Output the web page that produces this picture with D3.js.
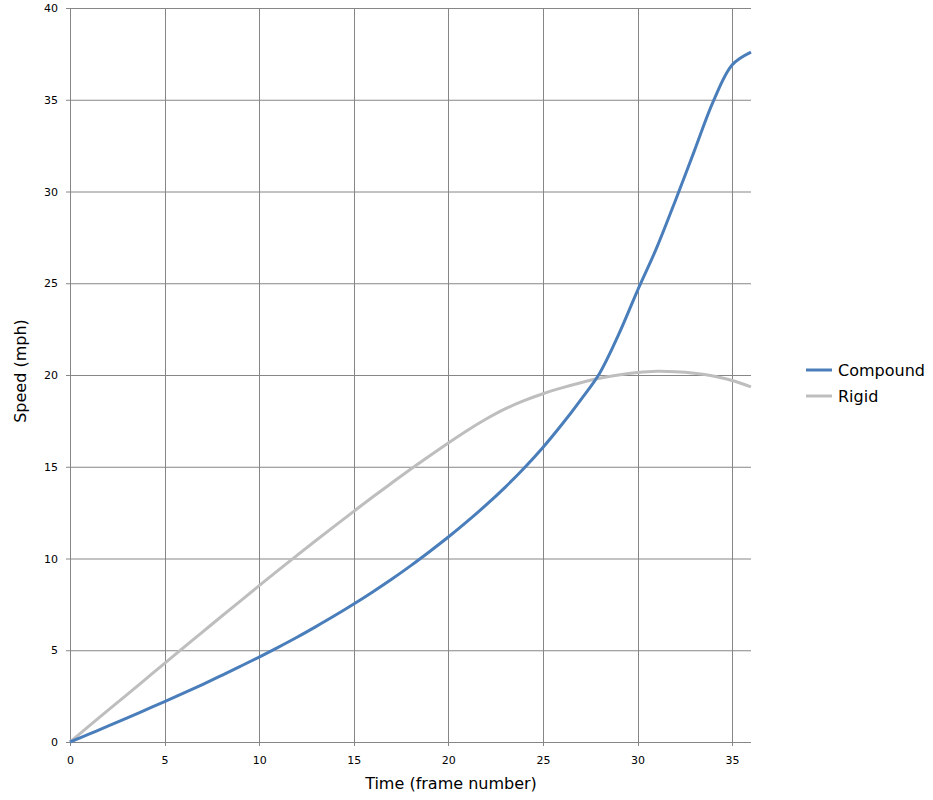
<!DOCTYPE html>
<html><head><meta charset="utf-8">
<script src="https://cdn.jsdelivr.net/npm/d3@7/dist/d3.min.js"></script>
<style>body{margin:0;background:#fff;} text{font-family:"DejaVu Sans",Verdana,sans-serif;}</style>
</head><body><svg id="c" width="933" height="800"></svg>
<script>
const frames = d3.range(0, 37);
const compound = [0,0.43,0.86,1.3,1.75,2.2,2.66,3.13,3.62,4.12,4.63,5.16,5.71,6.29,6.89,7.52,8.18,8.87,9.6,10.37,11.17,12.02,12.92,13.88,14.92,16.05,17.3,18.65,20.1,22.2,24.6,26.9,29.5,32.2,34.9,36.9,37.6];
const rigid = [0,0.86,1.72,2.57,3.43,4.29,5.14,5.99,6.84,7.68,8.52,9.35,10.17,10.98,11.78,12.57,13.35,14.11,14.86,15.59,16.3,16.98,17.6,18.15,18.6,18.98,19.3,19.58,19.82,20.0,20.13,20.2,20.18,20.1,19.95,19.7,19.35];
const seriesNames = ["Compound","Rigid"];
const seriesColors = ["#4a7ebb","#bebebe"];
const xTicks = [0,5,10,15,20,25,30,35];
const yTicks = [0,5,10,15,20,25,30,35,40];

const svg = d3.select("#c");
const x = d3.scaleLinear().domain([0,36]).range([70,751]);
const y = d3.scaleLinear().domain([0,40]).range([742,8]);

// gridlines
svg.append("g").selectAll("line").data(yTicks).join("line")
  .attr("x1",66).attr("x2",751).attr("y1",d=>y(d)+0.5).attr("y2",d=>y(d)+0.5)
  .attr("stroke","#868686").attr("stroke-width",1);
svg.append("g").selectAll("line").data(xTicks).join("line")
  .attr("y1",8).attr("y2",746).attr("x1",d=>Math.round(x(d))+0.5).attr("x2",d=>Math.round(x(d))+0.5)
  .attr("stroke","#868686").attr("stroke-width",1);

// tick labels
svg.append("g").selectAll("text").data(yTicks).join("text")
  .attr("x",58).attr("y",d=>y(d)+4).attr("text-anchor","end")
  .attr("font-size",11).attr("fill","#000").text(d=>d);
svg.append("g").selectAll("text").data(xTicks).join("text")
  .attr("x",d=>x(d)+0.5).attr("y",764).attr("text-anchor","middle")
  .attr("font-size",11).attr("fill","#000").text(d=>d);

// axis titles
svg.append("text").attr("x",451).attr("y",789).attr("text-anchor","middle")
  .attr("font-size",16).text("Time (frame number)");
svg.append("text").attr("transform","translate(26,371) rotate(-90)").attr("text-anchor","middle")
  .attr("font-size",16).text("Speed (mph)");

// lines
const line = d3.line().x((d,i)=>x(frames[i])).y(d=>y(d)).curve(d3.curveCatmullRom.alpha(0.5));
svg.append("path").datum(rigid).attr("d",line).attr("fill","none").attr("stroke",seriesColors[1]).attr("stroke-width",3);
svg.append("path").datum(compound).attr("d",line).attr("fill","none").attr("stroke",seriesColors[0]).attr("stroke-width",3);

// legend
const lg = svg.append("g").selectAll("g").data(seriesNames).join("g")
  .attr("transform",(d,i)=>`translate(806,${370+i*26})`);
lg.append("line").attr("x1",0).attr("x2",26).attr("y1",0).attr("y2",0)
  .attr("stroke",(d,i)=>seriesColors[i]).attr("stroke-width",3);
lg.append("text").attr("x",32).attr("y",6).attr("font-size",16).text(d=>d);
</script></body></html>
